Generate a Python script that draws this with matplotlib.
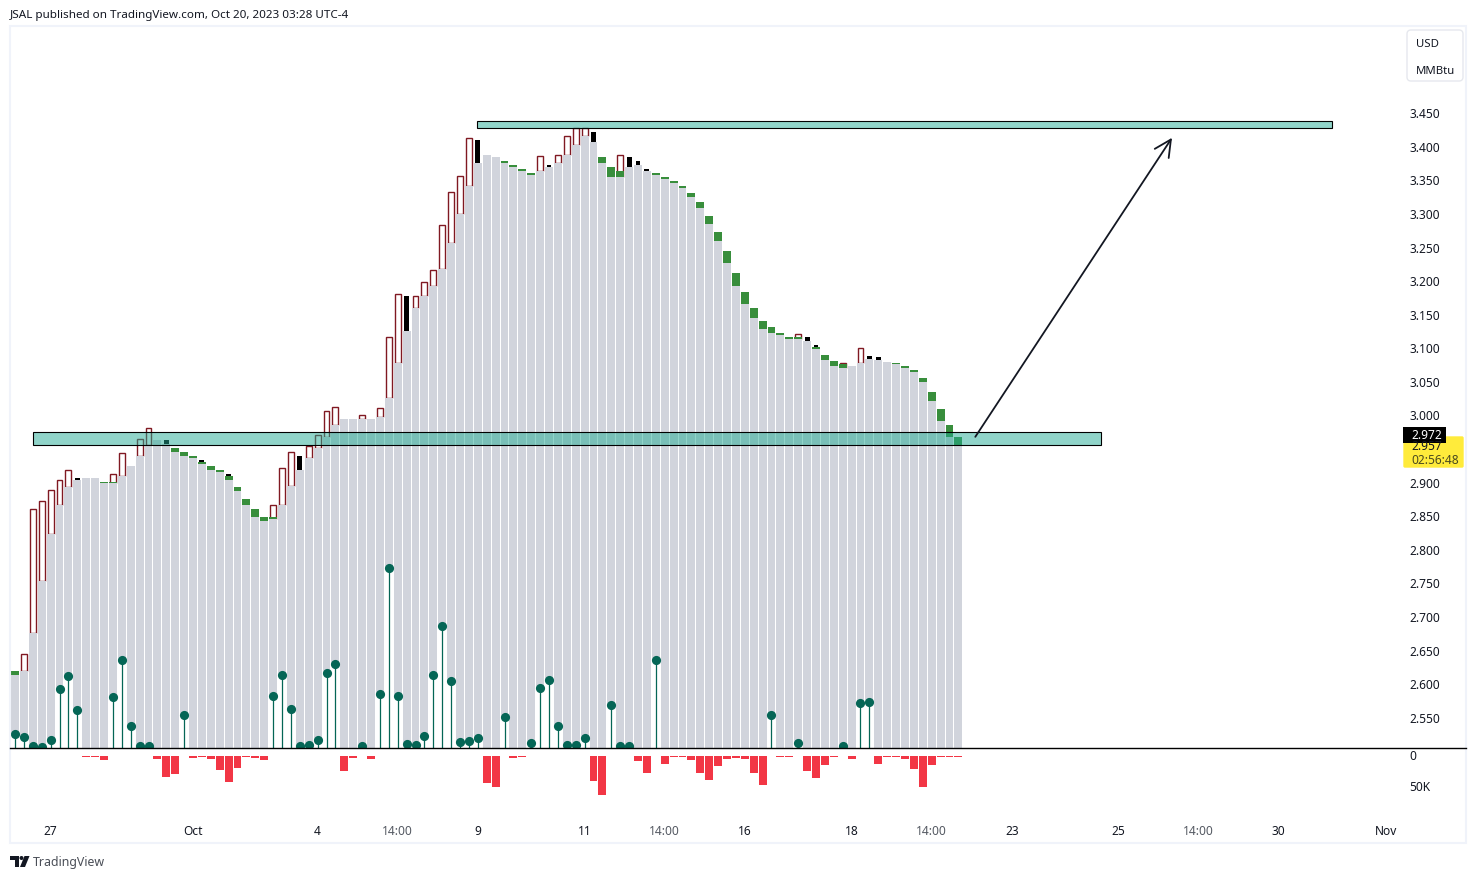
import matplotlib
matplotlib.use("Agg")
import matplotlib.pyplot as plt
from matplotlib.patches import Rectangle, FancyBboxPatch, Polygon, Circle

plt.rcParams["font.family"] = "Noto Sans"

# top of the grey columns, one per bar
closes = [2.615, 2.620, 2.677, 2.755, 2.824, 2.868, 2.895, 2.905, 2.908, 2.907,
          2.901, 2.901, 2.911, 2.925, 2.940, 2.957, 2.965, 2.959, 2.947, 2.941,
          2.937, 2.928, 2.920, 2.916, 2.905, 2.888, 2.867, 2.850, 2.843, 2.846,
          2.867, 2.896, 2.920, 2.938, 2.952, 2.969, 2.987, 2.996, 2.996, 2.996,
          2.995, 2.999, 3.027, 3.079, 3.127, 3.160, 3.179, 3.193, 3.219, 3.258,
          3.300, 3.343, 3.377, 3.389, 3.385, 3.377, 3.371, 3.364, 3.359, 3.364,
          3.370, 3.377, 3.389, 3.404, 3.417, 3.408, 3.376, 3.356, 3.356, 3.370,
          3.374, 3.365, 3.358, 3.352, 3.347, 3.340, 3.326, 3.309, 3.285, 3.260,
          3.228, 3.194, 3.166, 3.146, 3.130, 3.124, 3.120, 3.115, 3.115, 3.111,
          3.099, 3.084, 3.075, 3.072, 3.074, 3.079, 3.085, 3.084, 3.081, 3.077,
          3.071, 3.065, 3.050, 3.023, 2.993, 2.969, 2.957]

# candle tops showing above the columns, by bar number
green_tops = {0: 2.621, 1: 2.621, 10: 2.902, 11: 2.902, 18: 2.952, 19: 2.947, 20: 2.941,
              21: 2.932, 22: 2.925, 23: 2.920, 24: 2.910, 25: 2.895, 26: 2.877, 27: 2.862,
              28: 2.850, 29: 2.849, 55: 3.380, 56: 3.374, 57: 3.368, 58: 3.362, 59: 3.365,
              66: 3.385, 67: 3.371, 68: 3.365, 72: 3.362, 73: 3.356, 74: 3.350, 75: 3.343,
              76: 3.332, 77: 3.318, 78: 3.297, 79: 3.274, 80: 3.245, 81: 3.213, 82: 3.185,
              83: 3.161, 84: 3.142, 85: 3.132, 86: 3.124, 87: 3.118, 88: 3.117, 89: 3.112,
              90: 3.102, 91: 3.091, 92: 3.082, 93: 3.077, 99: 3.079, 100: 3.074, 101: 3.068,
              102: 3.056, 103: 3.035, 104: 3.010, 105: 2.986, 106: 2.969}
black_tops = {7: 2.907, 17: 2.965, 21: 2.935, 24: 2.914, 32: 2.941, 44: 3.178, 52: 3.411,
              60: 3.374, 65: 3.422, 69: 3.385, 70: 3.379, 71: 3.368, 89: 3.117, 90: 3.105,
              94: 3.075, 96: 3.090, 97: 3.088, 102: 3.057, 103: 3.036}
hollow_tops = {1: 2.646, 2: 2.862, 3: 2.874, 4: 2.890, 5: 2.905, 6: 2.920, 11: 2.914,
               12: 2.945, 14: 2.966, 15: 2.982, 29: 2.868, 30: 2.923, 31: 2.947, 33: 2.956,
               34: 2.972, 35: 3.008, 36: 3.014, 39: 3.002, 41: 3.012, 42: 3.118, 43: 3.182,
               45: 3.179, 46: 3.200, 47: 3.217, 48: 3.284, 49: 3.333, 50: 3.357, 51: 3.414,
               59: 3.387, 61: 3.389, 62: 3.417, 63: 3.429, 64: 3.429, 68: 3.389, 88: 3.122,
               93: 3.079, 95: 3.101}

# lollipops, read on the price scale
dots = {0: 2.526, 1: 2.523, 2: 2.509, 3: 2.508, 4: 2.518, 5: 2.594, 6: 2.613, 7: 2.563,
        11: 2.582, 12: 2.637, 13: 2.539, 14: 2.509, 15: 2.509, 19: 2.555, 29: 2.584,
        30: 2.615, 31: 2.564, 32: 2.509, 33: 2.511, 34: 2.518, 35: 2.618, 36: 2.631,
        39: 2.509, 41: 2.587, 42: 2.774, 43: 2.584, 44: 2.512, 45: 2.511, 46: 2.524,
        47: 2.615, 48: 2.687, 49: 2.606, 50: 2.515, 51: 2.517, 52: 2.521, 55: 2.552,
        58: 2.514, 59: 2.595, 60: 2.607, 61: 2.539, 62: 2.511, 63: 2.511, 64: 2.521,
        67: 2.570, 68: 2.509, 69: 2.509, 72: 2.637, 85: 2.555, 88: 2.514, 93: 2.509,
        95: 2.573, 96: 2.575}

# lower pane, thousands
volumes = {8: 1.6, 9: 1.6, 10: 6.5, 16: 4.8, 17: 33.9, 18: 29, 20: 3.2, 21: 1.6, 22: 4.8,
           23: 22.6, 24: 41.9, 25: 19.4, 26: 1.6, 27: 3.2, 28: 6.5, 37: 24.2, 38: 3.2,
           40: 4.8, 53: 43.5, 54: 50, 56: 3.2, 57: 1.6, 65: 40.3, 66: 62.9, 70: 8.1,
           71: 27.4, 73: 12.9, 74: 1.6, 75: 1.6, 76: 6.5, 77: 27.4, 78: 38.7, 79: 16.1,
           80: 4.8, 81: 3.2, 82: 4.8, 83: 27.4, 84: 46.8, 86: 1.6, 87: 1.6, 89: 24.2,
           90: 35.5, 91: 14.5, 92: 1.6, 94: 4.8, 97: 12.9, 98: 1.6, 99: 1.6, 100: 4.8,
           101: 21, 102: 50, 103: 14.5, 104: 1.6, 105: 1.6, 106: 1.6}

price_ticks = [2.55, 2.60, 2.65, 2.70, 2.75, 2.80, 2.85, 2.90, 3.00, 3.05, 3.10, 3.15,
               3.20, 3.25, 3.30, 3.35, 3.40, 3.45]
time_positions = [4, 20, 34, 43, 52, 64, 73, 82, 94, 103, 112, 124, 133, 142, 154]
time_labels = ["27", "Oct", "4", "14:00", "9", "11", "14:00", "16", "18", "14:00",
               "23", "25", "14:00", "30", "Nov"]
time_dark = ["27", "Oct", "4", "9", "11", "16", "18", "23", "25", "30", "Nov"]

GREY = "#d1d4dc"
MAROON = "#801922"
GREEN = "#388e3c"
TEAL = "#056656"
RED = "#f23645"
BAND = "#22ab94"
TEXT = "#131722"

W, H = 1477, 879
BAR_W = 0.89
fig = plt.figure(figsize=(W / 100, H / 100), dpi=100)


def pane(left, top, right, bottom):
    return fig.add_axes([left / W, 1 - bottom / H, (right - left) / W, (bottom - top) / H])


ax = pane(10, 27.6, 1405, 748.6)
vol = pane(10, 748.6, 1405, 820.6)
x_lim = (-0.562, 156.18)
floor = 2.5065
ax.set_xlim(x_lim)
ax.set_ylim(floor, 3.5795)
vol.set_xlim(x_lim)
vol.set_ylim(103.2, -12.9)

# candles sit behind the columns
for i, top in hollow_tops.items():
    ax.add_patch(Rectangle((i - 0.335, closes[i]), 0.67, top - closes[i], fc="white",
                           ec=MAROON, lw=1.0, zorder=1))
for i, top in black_tops.items():
    ax.bar(i, top - closes[i], 0.56, bottom=closes[i], color="black", zorder=2)
for i, top in green_tops.items():
    ax.bar(i, top - closes[i], BAR_W, bottom=closes[i], color=GREEN, zorder=2.5)

ax.bar(range(len(closes)), [c - floor for c in closes], BAR_W, bottom=floor, color=GREY, zorder=3)

for i, p in dots.items():
    ax.bar(i, p - floor, BAR_W, bottom=floor, color="white", zorder=4)
    ax.plot([i, i], [floor, p], color=TEAL, lw=0.9, zorder=5)
ax.plot(list(dots.keys()), list(dots.values()), "o", color=TEAL, ms=6.6, mew=0, zorder=6)

vol.bar(list(volumes.keys()), list(volumes.values()), BAR_W, color=RED)

# drawings on top of the price pane
ax.add_patch(Rectangle((2.02, 2.957), 120, 0.0195, fc=BAND + "80", ec="black", lw=0.8, zorder=7))
ax.add_patch(Rectangle((51.9, 3.428), 96.1, 0.0105, fc=BAND + "80", ec="black", lw=0.8, zorder=7))
ax.annotate("", xy=(130, 3.414), xytext=(107.9, 2.969), zorder=8,
            arrowprops=dict(arrowstyle="->,head_length=0.6,head_width=0.3", color="#131722",
                            lw=1.3, shrinkA=0, shrinkB=0, mutation_scale=20))

for a in (ax, vol):
    for s in a.spines.values():
        s.set_visible(False)
    a.yaxis.tick_right()
    a.tick_params(axis="both", length=0, labelsize=8.6, labelcolor=TEXT, pad=3)

ax.set_xticks([])
ax.set_yticks(price_ticks)
ax.set_yticklabels(["%.3f" % p for p in price_ticks], ha="left", va="center")
vol.set_yticks([0, 50])
vol.set_yticklabels(["0", "50K"], ha="left", va="center")
vol.set_xticks(time_positions)
vol.set_xticklabels(time_labels)
vol.tick_params(axis="x", pad=3)
for lab in vol.get_xticklabels():
    if lab.get_text() not in time_dark:
        lab.set_color("#555a63")

# page furniture in pixel coordinates
page = fig.add_axes([0, 0, 1, 1], facecolor="none")
page.set_xlim(0, W)
page.set_ylim(H - 1, -1)
page.axis("off")
page.add_patch(Rectangle((10, 26), 1456, 817, fc="none", ec="#f0f3fa", lw=1.5))
page.plot([10, 1466], [747.5, 747.5], color="black", lw=1.0)

page.add_patch(FancyBboxPatch((1407, 30), 56, 51, boxstyle="round,pad=0,rounding_size=4",
                              fc="white", ec="#e6e8ee", lw=1.0))
page.text(1416, 43.5, "USD", fontsize=8.2, color=TEXT, va="center")
page.text(1416, 70, "MMBtu", fontsize=8.2, color=TEXT, va="center")

page.add_patch(FancyBboxPatch((1404, 437), 59, 30, boxstyle="round,pad=0,rounding_size=1",
                              fc="#ffeb3b", ec="#ffeb3b", lw=1.0))
page.text(1411, 446, "2.957", fontsize=8.6, color=TEXT, va="center")
page.text(1411, 459.5, "02:56:48", fontsize=8.6, color="#4a4a20", va="center")
page.add_patch(Rectangle((1403, 427), 43, 16, fc="black", ec="none"))
page.text(1411, 435, "2.972", fontsize=8.6, color="white", va="center", fontweight="bold")

page.text(10, 14.5, "JSAL published on TradingView.com, Oct 20, 2023 03:28 UTC-4",
          fontsize=8.4, color=TEXT, va="center")
page.text(33, 861.5, "TradingView", fontsize=8.9, color="#4a4e57", va="center")
page.add_patch(Polygon([(10, 856), (19, 856), (19, 867), (14.5, 867), (14.5, 860), (10, 860)],
                       fc=TEXT, ec="none"))
page.add_patch(Circle((21.5, 858), 2, fc=TEXT, ec="none"))
page.add_patch(Polygon([(24.5, 856), (29.5, 856), (25, 867), (20, 867)], fc=TEXT, ec="none"))

fig.savefig("out.png", dpi=100, facecolor="white")
